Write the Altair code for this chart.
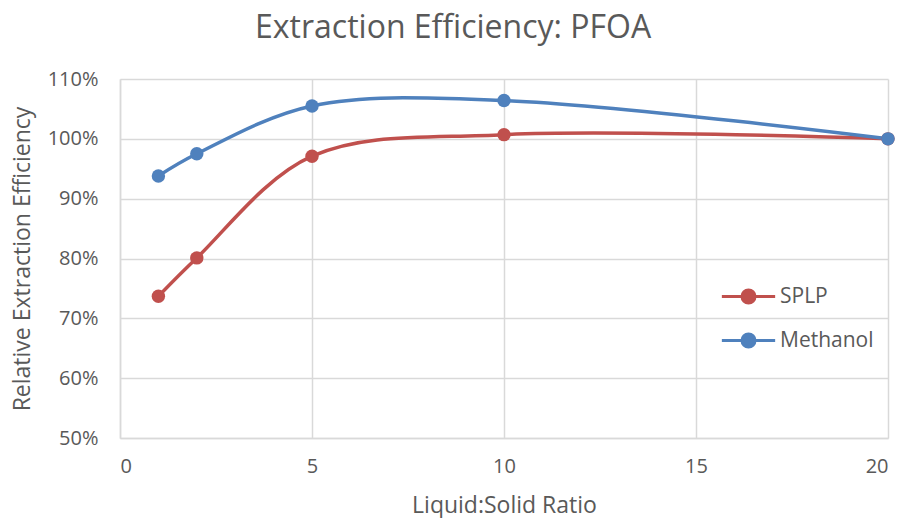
import altair as alt
import pandas as pd

ratios = [1, 2, 5, 10, 20]
splp = [0.737, 0.801, 0.971, 1.007, 1.000]
methanol = [0.938, 0.975, 1.055, 1.064, 1.000]
series_names = ["SPLP", "Methanol"]
colors = ["#C0504D", "#4F81BD"]

rows = []
for name, vals in zip(series_names, [splp, methanol]):
    for x, v in zip(ratios, vals):
        rows.append({"ratio": x, "eff": v, "series": name})
df = pd.DataFrame(rows)

FONT = "Open Sans"
GREY = "#595959"

color_scale = alt.Scale(domain=series_names, range=colors)

x_enc = alt.X("ratio:Q", scale=alt.Scale(domain=[0, 20], nice=False),
              axis=alt.Axis(values=[0, 5, 10, 15, 20], title="Liquid:Solid Ratio",
                            labelPadding=18, titlePadding=18))
y_enc = alt.Y("eff:Q", scale=alt.Scale(domain=[0.5, 1.1], nice=False, zero=False),
              axis=alt.Axis(values=[0.5, 0.6, 0.7, 0.8, 0.9, 1.0, 1.1], format=".0%",
                            title="Relative Extraction Efficiency",
                            labelPadding=22, titlePadding=13))

legend_shape = "M-4.1,0L4.1,0M1,0A1,1,0,1,1,-1,0A1,1,0,1,1,1,0Z"

leg = alt.Legend(title=None, orient="none", legendX=618, legendY=207,
                 symbolType=legend_shape, symbolSize=169,
                 symbolStrokeWidth=3, labelOffset=21,
                 rowPadding=19, labelFontSize=21, labelColor=GREY,
                 labelFont=FONT)

color_enc = alt.Color("series:N", scale=color_scale, sort=series_names, legend=leg)

line = alt.Chart(df).mark_line(interpolate="catmull-rom", strokeWidth=3.5).encode(
    x=x_enc, y=y_enc, color=color_enc,
)

pts = alt.Chart(df).mark_circle(size=180, opacity=1).encode(
    x=x_enc, y=y_enc, color=color_enc,
)

chart = alt.layer(line, pts).properties(
    width=768, height=359,
    background="white",
    title=alt.Title("Extraction Efficiency: PFOA", fontSize=32, font=FONT, color=GREY,
                    fontWeight="normal", anchor="middle", frame="bounds", offset=24),
    autosize=alt.AutoSizeParams(type="none"),
    padding={"left": 112, "top": 71, "right": 8, "bottom": 95},
).configure_view(stroke=None).configure_axis(
    grid=True, gridColor="#d9d9d9", gridWidth=1.5, domainColor="#d9d9d9", domainWidth=1.5,
    ticks=False, labelFont=FONT, labelFontSize=20, labelColor=GREY,
    titleFont=FONT, titleFontSize=23, titleColor=GREY, titleFontWeight="normal",
)

chart.save("out.html", embed_options={"renderer": "svg", "actions": False})
